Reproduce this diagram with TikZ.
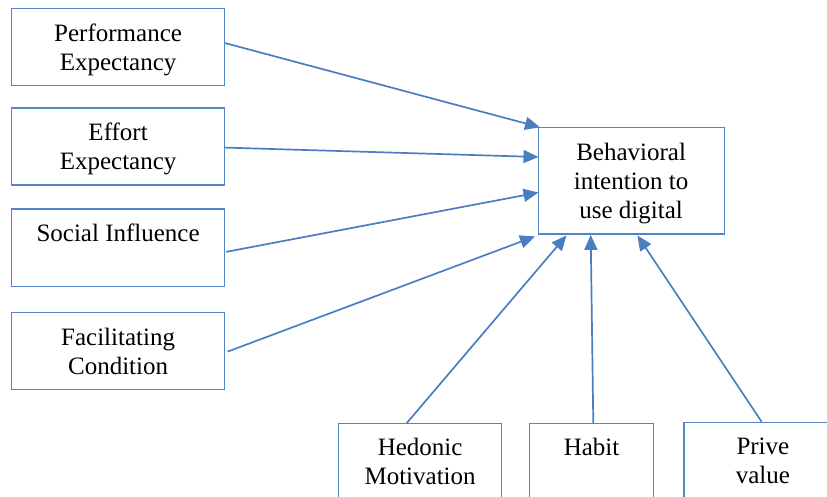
\documentclass[tikz,border=0pt]{standalone}
\usepackage{fontspec}
\setmainfont{Liberation Serif}
\usetikzlibrary{arrows.meta,calc}
\definecolor{lineblue}{RGB}{74,126,193}
\definecolor{boxblue}{RGB}{84,134,198}
\tikzset{
  box/.style={draw=boxblue, line width=0.6pt, inner sep=0pt, anchor=north west},
  sz/.style 2 args={minimum width=#1*0.5pt, minimum height=#2*0.5pt},
  lbl/.style={anchor=north, inner sep=0pt, align=center, font=\fontsize{12.5}{14.5}\selectfont},
  arr/.style={draw=lineblue, line width=0.85pt, -{Triangle[length=7.5pt,width=6.5pt]}}
}
\begin{document}
\begin{tikzpicture}[x=0.5pt,y=-0.5pt]
\useasboundingbox (0,0) rectangle (827,497);
\clip (0,0) rectangle (827,497);
% boxes
\node[box, sz={213}{77}] (pe) at (11,8) {};
\node[box, sz={213}{77}] (ee) at (11,107.5) {};
\node[box, sz={213}{77.5}] (si) at (11,208.5) {};
\node[box, sz={213}{77}] (fc) at (11,312) {};
\node[box, sz={186}{106.5}] (beh) at (537.5,127) {};
\node[box, sz={163}{90}] (hm) at (338,423.3) {};
\node[box, sz={124}{90}] (hb) at (529,423.3) {};
\node[box, sz={158}{90}] (pv) at (683.3,421.7) {};
% labels
\node[lbl] (tpe) at ($(pe.north)+(0,12.4)$) {\strut Performance\\Expectancy};
\node[lbl] (tee) at ($(ee.north)+(0,12.4)$) {\strut Effort\\Expectancy};
\node[lbl] (tsi) at ($(si.north)+(0,12.8)$) {\strut Social Influence};
\node[lbl] (tfc) at ($(fc.north)+(0,12.4)$) {\strut Facilitating\\Condition};
\node[lbl] (tbeh) at ($(beh.north)+(0,12.7)$) {\strut Behavioral\\intention to\\use digital};
\node[lbl] (thm) at ($(hm.north)+(0,11.5)$) {\strut Hedonic\\Motivation};
\node[lbl] (thb) at ($(hb.north)+(0,11.5)$) {\strut Habit};
\node[lbl] (tpv) at ($(pv.north)+(0,12)$) {\strut Prive\\value};
% arrows
\draw[arr] ($(pe.east)+(0,-4)$) -- ($(beh.north west)+(2.5,0.3)$);
\draw[arr] ($(ee.east)+(0,1)$) -- ($(beh.north west)+(1,30)$);
\draw[arr] ($(si.east)+(1,4)$) -- ($(beh.north west)+(1,65.5)$);
\draw[arr] ($(fc.east)+(2.5,0.5)$) -- ($(beh.south west)+(-2.5,1.7)$);
\draw[arr] ($(hm.north)+(-13.5,0)$) -- ($(beh.south west)+(29,0.7)$);
\draw[arr] ($(hb.north)+(1.7,0)$) -- ($(beh.south)+(-40.4,0.2)$);
\draw[arr] ($(pv.north)+(-1.3,0)$) -- ($(beh.south)+(6.3,0.7)$);
\end{tikzpicture}
\end{document}
